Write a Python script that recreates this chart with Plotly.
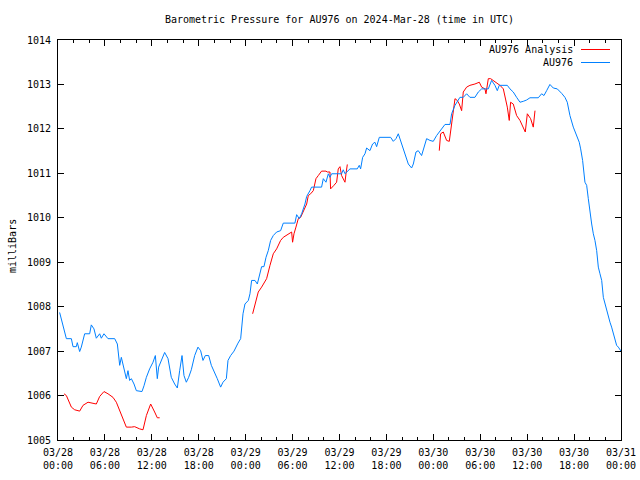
import plotly.graph_objects as go

# ---- data (hours since 2024-03-28 00:00 UTC, pressure in mbar) ----
obs_hours = [0.21, 1.07, 1.71, 1.92, 2.34, 2.47, 2.77, 2.98, 3.41, 4.05, 4.26, 4.60, 4.90, 5.33, 5.54, 5.88,
             6.39, 7.25, 7.59, 7.89, 8.10, 8.31, 8.53, 8.74, 8.95, 9.16, 9.38, 9.72, 10.02, 10.74, 11.00,
             11.30, 11.72, 12.15, 12.45, 12.70, 12.87, 13.13, 13.30, 13.64, 14.07, 14.49, 14.92, 15.26,
             15.56, 15.86, 16.11, 16.41, 16.71, 17.05, 17.48, 17.90, 18.24, 18.54, 18.84, 19.27, 19.61,
             19.95, 20.37, 20.80, 21.10, 21.53, 21.74, 22.08, 22.51, 23.02, 23.36, 23.66, 23.91, 24.34,
             24.55, 24.76, 25.19, 25.49, 25.83, 26.04, 26.34, 26.60, 26.89, 27.19, 27.53, 27.96, 28.47,
             28.81, 30.30, 30.52, 30.86, 31.16, 31.58, 31.80, 32.22, 32.43, 33.71, 33.93, 34.27, 34.57,
             34.78, 34.99, 36.27, 36.48, 36.70, 36.91, 37.34, 38.27, 38.53, 38.70, 38.96, 39.26, 39.47,
             39.89, 40.23, 40.53, 40.75, 41.09, 42.54, 42.88, 43.22, 43.52, 43.82, 44.16, 44.58, 44.80,
             45.22, 45.44, 45.78, 46.07, 46.50, 46.84, 47.14, 47.57, 47.99, 48.42, 48.85, 49.27, 49.49,
             50.13, 50.34, 50.77, 51.19, 51.40, 51.83, 52.26, 52.68, 53.32, 53.75, 54.18, 55.03, 55.45,
             55.88, 56.18, 56.43, 56.73, 57.46, 57.80, 58.22, 58.65, 59.08, 59.50, 59.93, 60.36, 61.42,
             61.85, 62.15, 62.49, 62.91, 63.34, 63.85, 64.41, 64.83, 65.13, 65.47, 65.90, 66.32, 66.66,
             66.84, 67.09, 67.39, 67.61, 67.82, 68.03, 68.25, 68.46, 68.67, 68.89, 69.10, 69.31, 69.53,
             69.74, 69.95, 70.17, 70.38, 70.59, 70.80, 71.02, 71.23, 71.44, 71.66, 71.87, 72.0]
obs_mbar = [1007.87, 1007.28, 1007.28, 1007.10, 1007.10, 1007.19, 1006.99, 1007.09, 1007.39, 1007.39,
            1007.59, 1007.50, 1007.29, 1007.39, 1007.29, 1007.39, 1007.28, 1007.28, 1007.16, 1006.68,
            1006.86, 1006.68, 1006.56, 1006.38, 1006.56, 1006.34, 1006.38, 1006.26, 1006.11, 1006.09,
            1006.22, 1006.41, 1006.60, 1006.75, 1006.90, 1006.38, 1006.64, 1006.75, 1006.86, 1006.97,
            1006.83, 1006.41, 1006.26, 1006.17, 1006.56, 1006.90, 1006.45, 1006.30, 1006.41, 1006.58,
            1006.90, 1007.09, 1007.01, 1006.79, 1006.90, 1006.90, 1006.68, 1006.56, 1006.38, 1006.19,
            1006.30, 1006.38, 1006.79, 1006.90, 1007.00, 1007.18, 1007.28, 1007.84, 1008.06, 1008.14,
            1008.29, 1008.59, 1008.59, 1008.51, 1008.74, 1008.90, 1008.90, 1009.11, 1009.26, 1009.49,
            1009.60, 1009.68, 1009.71, 1009.88, 1009.88, 1010.07, 1009.98, 1010.09, 1010.31, 1010.48,
            1010.61, 1010.69, 1010.69, 1010.88, 1010.80, 1010.99, 1010.91, 1010.99, 1010.99, 1011.08,
            1010.99, 1011.03, 1011.10, 1011.10, 1011.18, 1011.10, 1011.36, 1011.44, 1011.57, 1011.51,
            1011.66, 1011.70, 1011.60, 1011.81, 1011.81, 1011.72, 1011.78, 1011.89, 1011.74, 1011.55,
            1011.36, 1011.21, 1011.12, 1011.21, 1011.48, 1011.51, 1011.40, 1011.63, 1011.78, 1011.74,
            1011.72, 1011.85, 1011.96, 1012.04, 1012.10, 1012.10, 1012.34, 1012.53, 1012.64, 1012.71,
            1012.71, 1012.79, 1012.71, 1012.71, 1012.83, 1012.90, 1012.90, 1013.09, 1012.98, 1012.86,
            1012.98, 1012.98, 1012.98, 1012.90, 1012.83, 1012.71, 1012.60, 1012.62, 1012.65, 1012.70,
            1012.70, 1012.79, 1012.75, 1012.86, 1013.00, 1012.92, 1012.90, 1012.80, 1012.71, 1012.60,
            1012.30, 1012.04, 1011.83, 1011.70, 1011.55, 1011.29, 1010.80, 1010.73, 1010.43, 1010.09,
            1009.86, 1009.64, 1009.49, 1009.26, 1008.89, 1008.74, 1008.59, 1008.21, 1008.06, 1007.91,
            1007.76, 1007.65, 1007.54, 1007.39, 1007.24, 1007.13, 1007.09, 1007.03, 1007.00]

ana_hours = [0.77, 1.07, 1.71, 2.13, 2.77, 3.20, 3.84, 4.26, 4.90, 5.33, 5.88, 6.39, 7.03, 7.46, 7.89,
             8.31, 8.74, 9.38, 9.80, 10.44, 10.87, 11.30, 11.85, 12.36, 12.70, 13.00, None,
             24.89, 25.19, 25.61, 26.04, 26.68, 27.11, 27.53, 27.96, 28.47, 28.81, 29.58, 29.88, 30.00,
             30.18, 30.43, 30.73, 31.03, 31.37, 31.80, 32.01, 32.31, 32.65, 32.99, 33.29, 33.71, 34.27,
             34.44, 34.78, 34.86, 35.29, 35.63, 35.84, 36.06, 36.27, 36.48, 36.70, 36.83, 37.00, None,
             48.76, 48.93, 49.27, 49.70, 50.04, 50.34, 50.55, 50.77, 51.06, 51.32, 51.62, 51.83, 52.26,
             52.68, 53.32, 53.88, 54.18, 54.60, 54.73, 55.03, 55.33, 55.67, 56.09, 56.52, 56.95, 57.16,
             57.46, 57.71, 57.88, 58.22, 58.65, 59.08, 59.50, 59.76, 60.02, 60.44, 60.78, 61.00]
ana_mbar = [1006.04, 1006.00, 1005.74, 1005.68, 1005.65, 1005.78, 1005.85, 1005.84, 1005.81, 1005.98,
            1006.09, 1006.04, 1005.96, 1005.85, 1005.66, 1005.51, 1005.29, 1005.29, 1005.30, 1005.25,
            1005.23, 1005.55, 1005.81, 1005.63, 1005.50, 1005.50, None,
            1007.84, 1008.03, 1008.33, 1008.44, 1008.63, 1008.93, 1009.19, 1009.30, 1009.49, 1009.56,
            1009.64, 1009.68, 1009.45, 1009.64, 1009.79, 1009.98, 1010.01, 1010.16, 1010.31, 1010.50,
            1010.54, 1010.61, 1010.88, 1010.95, 1011.05, 1011.05, 1011.03, 1011.03, 1010.65, 1010.73,
            1010.80, 1011.10, 1011.15, 1010.95, 1010.88, 1010.80, 1010.99, 1011.20, None,
            1011.51, 1011.89, 1011.93, 1011.74, 1011.72, 1012.11, 1012.41, 1012.68, 1012.64, 1012.56,
            1012.41, 1012.83, 1012.94, 1012.98, 1013.01, 1013.05, 1012.94, 1012.90, 1012.79, 1013.13,
            1013.13, 1013.09, 1013.05, 1012.98, 1012.90, 1012.75, 1012.49, 1012.19, 1012.60, 1012.56,
            1012.30, 1012.19, 1012.04, 1011.93, 1012.34, 1012.23, 1012.04, 1012.41]

x_tick_vals = [0, 6, 12, 18, 24, 30, 36, 42, 48, 54, 60, 66, 72]
x_tick_text = ["03/28<br>00:00", "03/28<br>06:00", "03/28<br>12:00", "03/28<br>18:00",
               "03/29<br>00:00", "03/29<br>06:00", "03/29<br>12:00", "03/29<br>18:00",
               "03/30<br>00:00", "03/30<br>06:00", "03/30<br>12:00", "03/30<br>18:00",
               "03/31<br>00:00"]
y_tick_vals = [1005, 1006, 1007, 1008, 1009, 1010, 1011, 1012, 1013, 1014]

series_names = ["AU976 Analysis", "AU976"]
series_colors = ["#ff0000", "#0080ff"]

FONT = "DejaVu Sans Mono"
W, H = 640, 480
L, R, T, B = 58, 19, 40, 40
PW, PH = W - L - R, H - T - B


def px(x):
    return (x - L) / PW


def py(y):
    return (H - B - y) / PH


fig = go.Figure()
fig.add_trace(go.Scatter(x=ana_hours, y=ana_mbar, mode="lines", name=series_names[0],
                         line=dict(color=series_colors[0], width=1), connectgaps=False))
fig.add_trace(go.Scatter(x=obs_hours, y=obs_mbar, mode="lines", name=series_names[1],
                         line=dict(color=series_colors[1], width=1)))

# gnuplot-style key: right-aligned text, line sample on the right
key_y = [49.5, 62.5]
annotations = []
shapes = []
for name, color, ky in zip(series_names, series_colors, key_y):
    annotations.append(dict(x=px(575), y=py(ky), xref="paper", yref="paper", text=name, showarrow=False,
                            xanchor="right", yanchor="middle", font=dict(family=FONT, size=10, color="black")))
    shapes.append(dict(type="line", xref="paper", yref="paper", x0=px(581), x1=px(610), y0=py(ky), y1=py(ky),
                       line=dict(color=color, width=1)))
annotations.append(dict(x=px(12), y=py(246), xref="paper", yref="paper", text="milliBars", showarrow=False,
                        textangle=-90, xanchor="center", yanchor="middle",
                        font=dict(family=FONT, size=10, color="black")))

fig.update_layout(
    template="none",
    width=W, height=H,
    margin=dict(l=L, r=R, t=T, b=B, pad=0),
    autosize=False,
    paper_bgcolor="white", plot_bgcolor="white",
    showlegend=False,
    title=dict(text="Barometric Pressure for AU976 on 2024-Mar-28 (time in UTC)",
               x=339.5 / W, xanchor="center", xref="container",
               y=1 - 19 / H, yanchor="middle",
               font=dict(family=FONT, size=10, color="black")),
    font=dict(family=FONT, size=10, color="black"),
    annotations=annotations, shapes=shapes,
)
fig.update_xaxes(range=[0, 72], tickvals=x_tick_vals, ticktext=x_tick_text, automargin=False,
                 showgrid=False, zeroline=False, showline=True, linecolor="black", linewidth=1,
                 mirror="allticks", ticks="inside", ticklen=6, tickcolor="black", ticklabelstandoff=3,
                 minor=dict(dtick=2, tick0=0, ticks="inside", ticklen=3, tickcolor="black", showgrid=False),
                 tickfont=dict(family=FONT, size=10, color="black"))
fig.update_yaxes(range=[1005, 1014], tickvals=y_tick_vals, automargin=False,
                 showgrid=False, zeroline=False, showline=True, linecolor="black", linewidth=1,
                 mirror="allticks", ticks="inside", ticklen=6, tickcolor="black", ticklabelstandoff=4,
                 tickfont=dict(family=FONT, size=10, color="black"))

fig.write_html("out.html",
               config={"displayModeBar": False, "responsive": False},
               post_script="document.body.style.margin='0';document.body.style.overflow='hidden';")
